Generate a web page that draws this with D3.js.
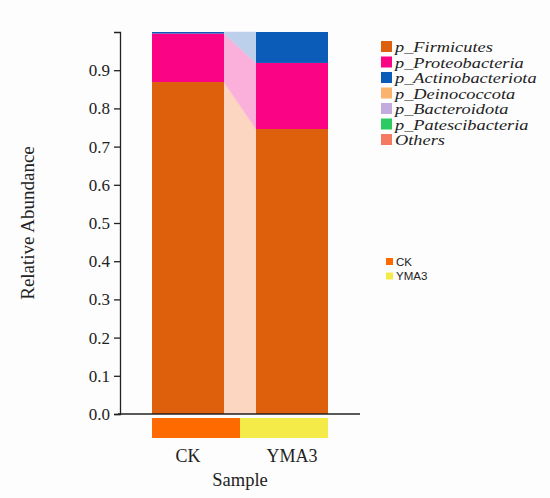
<!DOCTYPE html>
<html><head><meta charset="utf-8">
<script src="https://cdn.jsdelivr.net/npm/d3@7/dist/d3.min.js"></script>
<style>body{margin:0;background:#fdfdfd;} svg{display:block;}</style>
</head><body>
<svg id="c" width="550" height="498"></svg>
<script>
const samples = ["CK", "YMA3"];
const taxa = ["p_Firmicutes","p_Proteobacteria","p_Actinobacteriota","p_Deinococcota","p_Bacteroidota","p_Patescibacteria","Others"];
const taxaColors = ["#de5f0c","#fa0385","#0b5cb8","#f9b36c","#c3aadf","#2ccb62","#f57a62"];
const linkColors = ["#fdd6c1","#fbb0dc","#bcd0ec","#fde6cc","#e9def4","#c4f0d2","#fdd4cb"];
const ckValues   = [0.869, 0.127, 0.004, 0, 0, 0, 0];
const ymaValues  = [0.746, 0.173, 0.081, 0, 0, 0, 0];
const groups = ["CK","YMA3"];
const groupColors = ["#ff6a00","#f5eb48"];
const yTicks = [0,0.1,0.2,0.3,0.4,0.5,0.6,0.7,0.8,0.9];

const svg = d3.select("#c");
const serif = "'Liberation Serif','Times New Roman',serif";

const y = d3.scaleLinear().domain([0,1]).range([414,32]);
const x = d3.scaleBand().domain(samples).range([152,328]).paddingInner(32/104).paddingOuter(0);

function stackOf(vals){ let acc=0; return vals.map(v=>{const s=[acc,acc+v]; acc+=v; return s;}); }
const stacks = {CK: stackOf(ckValues), YMA3: stackOf(ymaValues)};

// links between bars
const x0 = x("CK")+x.bandwidth(), x1 = x("YMA3");
taxa.forEach((t,i)=>{
  const a = stacks.CK[i], b = stacks.YMA3[i];
  if (a[1]-a[0] <= 0 && b[1]-b[0] <= 0) return;
  svg.append("path")
    .attr("d", `M${x0},${y(a[0])}L${x1},${y(b[0])}L${x1},${y(b[1])}L${x0},${y(a[1])}Z`)
    .attr("fill", linkColors[i]).attr("stroke", linkColors[i]).attr("stroke-width",0.5);
});

// bars
samples.forEach(s=>{
  taxa.forEach((t,i)=>{
    const st = stacks[s][i];
    if (st[1]-st[0] <= 0) return;
    svg.append("rect")
      .attr("x", x(s)).attr("width", x.bandwidth())
      .attr("y", y(st[1])).attr("height", y(st[0])-y(st[1]))
      .attr("fill", taxaColors[i]);
  });
});

// y axis
const yAxis = svg.append("g").attr("transform","translate(120,0)")
  .call(d3.axisLeft(y).tickValues(yTicks).tickFormat(d3.format(".1f")).tickSize(6).tickSizeOuter(6));
yAxis.attr("font-family",serif).attr("font-size",17);
yAxis.selectAll("path,line").attr("stroke","#222").attr("stroke-width",1.3);
yAxis.selectAll("text").attr("font-family",serif).attr("font-size",17).attr("fill","#222").attr("dx","-1");

// x baseline
svg.append("line").attr("x1",118).attr("x2",360).attr("y1",y(0)).attr("y2",y(0))
  .attr("stroke","#222").attr("stroke-width",1.3);

// group strip
const mid = (x0+x1)/2;
const stripX = {CK:[x("CK"), mid], YMA3:[mid, x("YMA3")+x.bandwidth()]};
groups.forEach((g,i)=>{
  svg.append("rect").attr("x",stripX[g][0]).attr("width",stripX[g][1]-stripX[g][0])
    .attr("y",418).attr("height",20).attr("fill",groupColors[i]);
});

// sample labels
samples.forEach(s=>{
  svg.append("text").attr("x", x(s)+x.bandwidth()/2).attr("y",462)
    .attr("text-anchor","middle").attr("font-family",serif).attr("font-size",18).attr("fill","#222").text(s);
});
svg.append("text").attr("x",240).attr("y",486).attr("text-anchor","middle")
  .attr("font-family",serif).attr("font-size",18.5).attr("fill","#222").text("Sample");
svg.append("text").attr("transform","translate(34,223) rotate(-90)").attr("text-anchor","middle")
  .attr("font-family",serif).attr("font-size",19).attr("fill","#222").text("Relative Abundance");

// taxa legend
const lg = svg.append("g");
taxa.forEach((t,i)=>{
  const yy = 41 + i*15.5;
  lg.append("rect").attr("x",381).attr("y",yy).attr("width",11).attr("height",11).attr("fill",taxaColors[i]);
  lg.append("text").attr("transform",`translate(395,${yy+11}) scale(1.36,1.08)`).attr("font-family",serif).attr("font-style","italic")
    .attr("font-size",13.5).attr("fill","#222").text(t);
});

// group legend
groups.forEach((g,i)=>{
  const yy = 258 + i*14.5;
  svg.append("rect").attr("x",386).attr("y",yy).attr("width",7).attr("height",7).attr("fill",groupColors[i]);
  svg.append("text").attr("x",396).attr("y",yy+7.5).attr("font-family","'Liberation Sans',Arial,sans-serif")
    .attr("font-size",11.5).attr("fill","#222").text(g);
});
</script>
</body></html>
